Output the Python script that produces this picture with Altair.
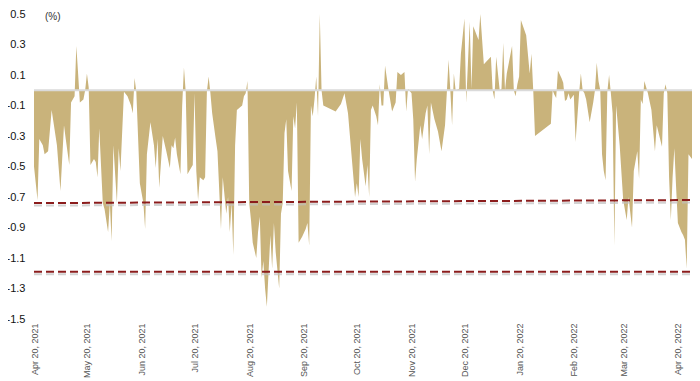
import altair as alt
import pandas as pd

# ---- data ----
start_date = "2021-04-20"
day_offsets = [
    0, 2, 3, 5, 6, 8, 10, 13, 15, 17, 18, 20, 21, 23, 24, 25, 26, 28, 29, 30, 31, 32, 34, 35, 36, 37,
    39, 40, 42, 43, 44, 45, 47, 48, 49, 51, 53, 55, 56, 57, 58, 60, 62,
    63, 64, 66, 68, 69, 70, 71, 73, 75, 77, 78, 79, 80, 81, 83, 84, 85, 86, 87, 88, 90, 91, 92, 93,
    94, 96, 97, 98, 99, 100, 101, 103, 104, 106, 107, 109, 110, 111, 112, 113, 114, 115, 118, 119,
    120, 121, 122,
    123, 124, 126, 127, 128, 129, 130, 131, 132, 134, 135, 136, 137, 139, 140, 141, 142, 143, 144,
    146, 147, 148, 149, 150, 152, 154, 155, 156, 157, 158, 159, 160, 161, 162, 163, 164, 171, 174,
    176, 178, 182, 183,
    184, 185, 186, 188, 189, 190, 191, 192, 194, 195, 196, 197, 198, 199, 201, 203, 205, 206, 208,
    210, 211, 212, 214, 215, 216, 217, 219, 220, 222, 223, 224, 225, 227, 229, 231, 233, 234, 235,
    236, 237, 238, 239, 241, 242, 244, 245,
    247, 248, 249, 252, 253, 255, 259, 260, 261, 262, 264, 265, 266, 267, 268, 271, 272, 273, 274,
    275, 276, 279, 281, 282, 283, 284, 293, 294, 295, 296, 297, 299, 300, 301, 302, 303, 304, 306,
    307, 309, 310,
    311, 312, 313, 315, 317, 318, 319, 320, 321, 322, 323, 324, 325, 326, 327, 328, 329, 330, 332,
    334, 336, 337, 339, 340, 342, 343, 344, 345, 346, 348, 350, 352, 353, 356, 357, 358, 359, 360,
    361, 362, 363, 364, 365, 367, 368, 369, 370, 371, 373,
]
values = [
    -0.50, -0.72, -0.32, -0.36, -0.42, -0.40, -0.13, -0.36, -0.66, -0.23, -0.32, -0.49, -0.08, -0.04,
    0.29, 0.11, -0.08, -0.06, 0.00, 0.11, 0.02, -0.49, -0.45, -0.47, -0.57, -0.25,
    -0.74, -0.78, -0.93, -0.74, -0.99, -0.36, -0.74, -0.38, -0.53, -0.01, -0.04, -0.10, -0.15, 0.08,
    -0.01, -0.61, -0.74,
    -0.91, -0.42, -0.21, -0.36, -0.51, -0.32, -0.64, -0.30, -0.40, -0.51, -0.36, -0.38, -0.31, -0.42,
    -0.55, -0.10, 0.15, -0.01, -0.55, -0.53, -0.49, -0.02, -0.53, -0.72,
    -0.57, -0.59, -0.57, -0.01, 0.09, -0.02, -0.15, -0.32, -0.40, -0.91, -0.57, -0.81, -0.70, -0.93,
    -0.74, -1.08, -0.36, -0.13, -0.10, -0.04,
    -0.02, 0.06, -0.74,
    -0.85, -1.00, -1.10, -0.93, -0.83, -1.23, -1.12, -1.30, -1.42, -0.95, -1.17, -0.87, -1.06, -1.30,
    -0.81, -0.74, -0.28, -0.19, -0.53,
    -0.66, -0.17, -0.25, -0.08, -1.00, -0.96, -0.91, -0.87, -1.02, -0.10, -0.17, -0.06, 0.09, -0.17,
    0.50, 0.00, -0.10, -0.14, -0.09,
    -0.02, -0.15, -0.70, -0.61,
    -0.70, -0.32, -0.45, -0.63, -0.49, -0.70, -0.13, -0.10, -0.17, -0.23, 0.04, -0.10, -0.10, 0.16,
    0.00, -0.14, -0.08, 0.12, 0.10,
    0.12, -0.14, 0.01, -0.02, -0.19, -0.60, -0.45, -0.23, -0.32, -0.15, -0.10, -0.42, -0.08, -0.19,
    -0.27, -0.40, -0.23, -0.02, 0.20,
    0.00, -0.23, 0.11, 0.00, 0.01, 0.24, 0.47, -0.08,
    0.45, 0.01, 0.42, 0.33, 0.50, 0.17, 0.22, 0.00, -0.06, 0.22, 0.00, 0.01, 0.31, 0.00, 0.11, 0.29,
    0.00, -0.04, 0.04,
    0.09, 0.46, 0.36, 0.11, 0.24, 0.00, -0.30, -0.22, 0.00, -0.03, -0.05, 0.13, 0.08, 0.05, -0.07,
    -0.06, -0.02, -0.06, -0.03,
    -0.34, -0.02, 0.11,
    0.00, -0.02, -0.06, -0.21, -0.08, 0.00, 0.18, 0.06, 0.00, -0.42, -0.53, -0.59, -0.01, 0.10, -0.02,
    -0.15, -1.02, -0.10, -0.36,
    -0.72, -0.85, -0.70, -0.90, -0.53, -0.40, -0.58, -0.06, -0.09, 0.06, -0.02, -0.13, -0.40, -0.23,
    -0.37, -0.02, 0.04, -0.02, -0.57,
    -0.85, -0.57, -0.38, -0.64, -0.87, -0.93, -0.95, -0.98, -1.17, -0.42, -0.45,
]

band_days = [0, 373]
upper_band = [-0.74, -0.72]
lower_band = [-1.19, -1.19]
zero_level = [0.0]

y_ticks = [0.5, 0.3, 0.1, -0.1, -0.3, -0.5, -0.7, -0.9, -1.1, -1.3, -1.5]
x_tick_months = [(2021, 4), (2021, 5), (2021, 6), (2021, 7), (2021, 8), (2021, 9), (2021, 10),
                 (2021, 11), (2021, 12), (2022, 1), (2022, 2), (2022, 3), (2022, 4)]
unit_label = "(%)"

# ---- tables ----
base = pd.Timestamp(start_date)
df = pd.DataFrame({"date": base + pd.to_timedelta(day_offsets, unit="D"), "value": values})
band_dates = list(base + pd.to_timedelta(band_days, unit="D"))
bands = pd.DataFrame({
    "date": band_dates + band_dates,
    "value": upper_band + lower_band,
    "line": ["upper", "upper", "lower", "lower"],
})
zero_df = pd.DataFrame({"value": zero_level})

X = alt.X(
    "date:T",
    title=None,
    scale=alt.Scale(domain=[alt.DateTime(year=2021, month=4, date=20),
                            alt.DateTime(year=2022, month=4, date=28)]),
    axis=alt.Axis(
        values=[alt.DateTime(year=y, month=m, date=20) for y, m in x_tick_months],
        labelExpr="timeFormat(datum.value, '%b %d, %Y')",
        labelAngle=270,
        labelFontSize=9,
        labelColor="#555555",
        labelFont="Liberation Sans",
        labelPadding=4,
        labelOverlap=False,
        labelBound=False,
        grid=False, domain=False, ticks=False,
    ),
)
Y = alt.Y(
    "value:Q",
    title=None,
    scale=alt.Scale(domain=[-1.5, 0.5], nice=False, zero=False),
    axis=alt.Axis(
        values=y_ticks,
        labelExpr="datum.value < 0 ? '-' + format(-datum.value, '.1f') : format(datum.value, '.1f')",
        labelFontSize=11,
        labelColor="#111111",
        labelFont="Liberation Sans",
        labelPadding=9,
        grid=False, domain=False, ticks=False,
    ),
)

area = alt.Chart(df).mark_area(color="#C9B37B", interpolate="linear").encode(x=X, y=Y)

zero = alt.Chart(zero_df).mark_rule(color="#DADADA", strokeWidth=2).encode(y=Y)

shadow = alt.Chart(bands).mark_line(
    color="#BFBFBF", strokeWidth=2, strokeDash=[8, 4], yOffset=2.5, opacity=0.7
).encode(x=X, y=Y, detail="line:N")

dashed = alt.Chart(bands).mark_line(
    color="#8B1C1C", strokeWidth=2, strokeDash=[8, 4]
).encode(x=X, y=Y, detail="line:N")

label = alt.Chart(pd.DataFrame({"t": [unit_label]})).mark_text(
    align="left", baseline="middle", fontSize=10, color="#333333", font="Liberation Sans"
).encode(text="t:N", x=alt.value(11), y=alt.value(3))

chart = alt.layer(area, zero, shadow, dashed, label).properties(
    width=658,
    height=305,
    padding={"left": 26, "top": 6, "right": 0, "bottom": 59},
    autosize=alt.AutoSizeParams(type="none"),
).configure_view(stroke=None)

chart.save("out.html", embed_options={"renderer": "svg", "actions": False})
